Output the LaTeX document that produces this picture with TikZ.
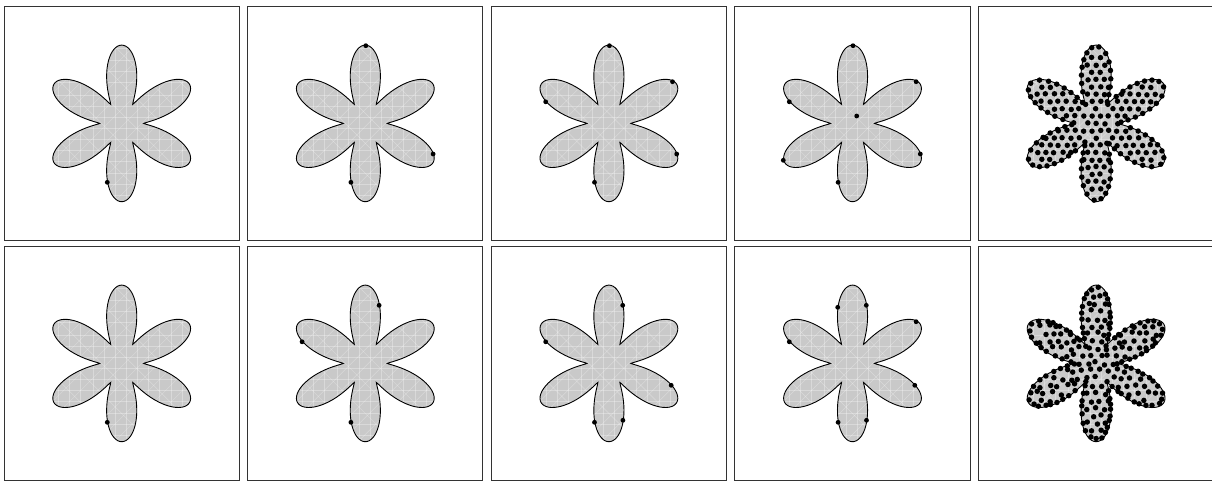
\documentclass[tikz,border=0pt]{standalone}
\newcommand\drawflower{%
  \fill[flowerfill] plot[domain=0:360,samples=241,variable=\t] ({\t}:{22+56.3*pow(abs(sin(3*\t))+0.0001,1.4)}) -- cycle;
  \begin{scope}
    \clip plot[domain=0:360,samples=241,variable=\t] ({\t}:{22+56.3*pow(abs(sin(3*\t))+0.0001,1.4)}) -- cycle;
    \foreach \k in {-75,-63,-52,-41,-28,-17,-6,5,16,27,38,50,61,72} {
      \draw[meshline] (\k,-80) -- (\k,80);
      \draw[meshline] (-80,\k) -- (80,\k);}
    \foreach \k in {-150,-133,...,150} {\draw[meshline] (\k-80,80) -- (\k+80,-80);}
    \foreach \k in {-140,-110,...,150} {\draw[meshline] (\k-80,-80) -- (\k+80,80);}
  \end{scope}
  \draw[flowerline] plot[domain=0:360,samples=241,variable=\t] ({\t}:{22+56.3*pow(abs(sin(3*\t))+0.0001,1.4)}) -- cycle;}
\newcommand\sdotat[1]{\fill[sdot] (#1) circle (2.4);}
% #1 interior jitter, #2 boundary step, #3 boundary jitter, #4 grid spacing
\newcommand\densedots[4]{%
  \foreach \j in {-12,...,12}{%
    \foreach \i in {-16,...,16}{%
      \pgfmathsetmacro\dpx{#4*(\i+0.5*\j)+0.013+#1*rand}%
      \pgfmathsetmacro\dpy{0.866*#4*\j+#1*rand}%
      \pgfmathsetmacro\drr{veclen(\dpx,\dpy)}%
      \pgfmathsetmacro\dth{atan2(\dpy,\dpx)}%
      \pgfmathsetmacro\dlim{22+56.3*pow(abs(sin(3*\dth))+0.0001,1.4)-7.5}%
      \ifdim\drr pt<\dlim pt \fill[sdot] (\dpx,\dpy) circle (2.75);\fi
    }}%
  \def\bth{1}%
  \loop
    \pgfmathsetmacro\bs{abs(sin(3*\bth))+0.0001}%
    \pgfmathsetmacro\bR{22+56.3*pow(\bs,1.4)}%
    \pgfmathsetmacro\bRp{236.46*pow(\bs,0.4)*abs(cos(3*\bth))}%
    \pgfmathsetmacro\boff{1.3+#3*rnd}%
    \fill[sdot] ({\bth}:{\bR-\boff}) circle (2.75);
    \pgfmathsetmacro\bth{\bth+57.3*(#2+#3*rand)/veclen(\bR,\bRp)}%
  \ifdim\bth pt<358.5pt\repeat}
\begin{document}
\begin{tikzpicture}[x=1pt,y=-1pt,
  panel/.style={draw=black!80,line width=0.9pt},
  flowerfill/.style={fill=black!21},
  meshline/.style={draw=white,draw opacity=0.3,line width=0.5pt},
  flowerline/.style={draw=black,line width=0.9pt},
  sdot/.style={fill=black}]
\useasboundingbox (0,0) rectangle (1212,483);
\foreach \r in {0,1}{
  \foreach \c in {0,...,4}{
    \draw[panel] ({4+243.6*\c},{6+240*\r}) rectangle +(235.3,234.7);
    \begin{scope}[shift={({121.7+243.6*\c},{123.4+240*\r})}]
      \drawflower
    \end{scope}
  }}
% sparse dot positions (relative to flower centre)
\def\pA{-14.4,58.9}
\def\pB{0.5,-77.7}
\def\pC{67.8,30.6}
\def\pD{63.6,-41.7}
\def\pE{-63.2,-21.6}
\def\pF{4.2,-7.4}
\def\pG{-69.2,36.9}
\def\pH{13.8,-58.1}
\def\pJ{62.3,21.9}
\def\pK{14,56.9}
\def\pL{-14.8,-56.1}
% row 1
\begin{scope}[shift={(121.7,123.4)}]
  \sdotat{\pA}
\end{scope}
\begin{scope}[shift={(365.3,123.4)}]
  \sdotat{\pA}\sdotat{\pB}\sdotat{\pC}
\end{scope}
\begin{scope}[shift={(608.9,123.4)}]
  \sdotat{\pA}\sdotat{\pB}\sdotat{\pC}\sdotat{\pD}\sdotat{\pE}
\end{scope}
\begin{scope}[shift={(852.5,123.4)}]
  \sdotat{\pA}\sdotat{\pB}\sdotat{\pC}\sdotat{\pD}\sdotat{\pE}\sdotat{\pF}\sdotat{\pG}
\end{scope}
\begin{scope}[shift={(1096.1,123.4)}]
  \densedots{0.6}{8.2}{0}{8.4}
\end{scope}
% row 2
\begin{scope}[shift={(121.7,363.4)}]
  \sdotat{\pA}
\end{scope}
\begin{scope}[shift={(365.3,363.4)}]
  \sdotat{\pA}\sdotat{\pH}\sdotat{\pE}
\end{scope}
\begin{scope}[shift={(608.9,363.4)}]
  \sdotat{\pA}\sdotat{\pH}\sdotat{\pE}\sdotat{\pJ}\sdotat{\pK}
\end{scope}
\begin{scope}[shift={(852.5,363.4)}]
  \sdotat{\pA}\sdotat{\pH}\sdotat{\pE}\sdotat{\pJ}\sdotat{\pK}\sdotat{\pL}\sdotat{\pD}
\end{scope}
\pgfmathsetseed{7}
\begin{scope}[shift={(1096.1,363.4)}]
  \densedots{2}{7}{2.2}{8.6}
\end{scope}
\end{tikzpicture}
\end{document}
